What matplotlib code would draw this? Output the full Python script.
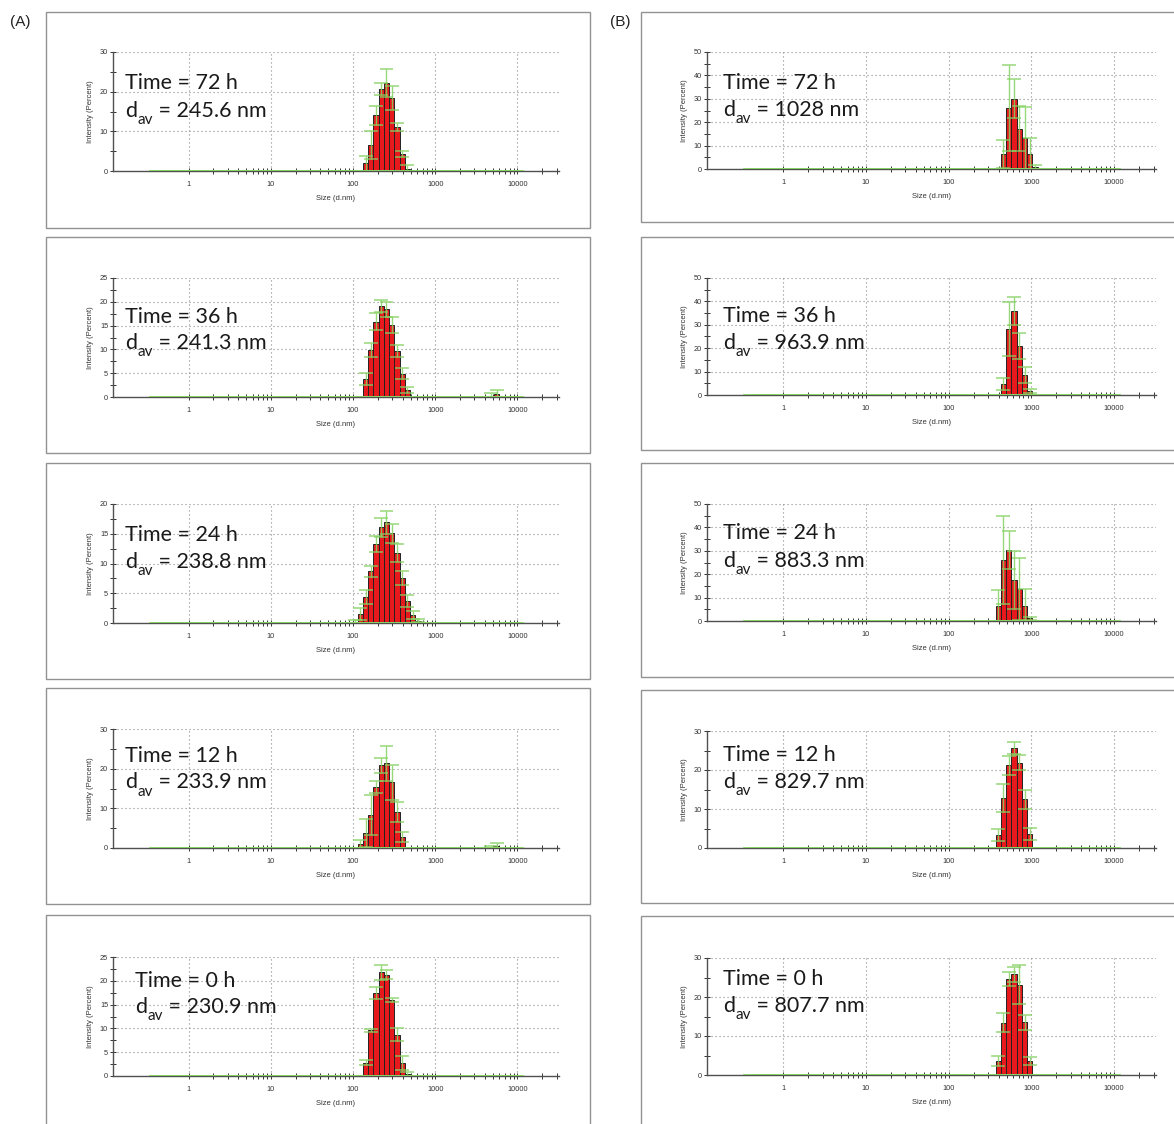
import numpy as np
import matplotlib.pyplot as plt
from matplotlib.patches import Rectangle
from matplotlib.ticker import FixedLocator, NullFormatter
from matplotlib.transforms import offset_copy

plt.rcParams['font.family'] = ['Liberation Sans', 'DejaVu Sans']

# size classes of the instrument (d.nm)
size_classes = [0.4, 0.4632, 0.5365, 0.6213, 0.7195, 0.8332, 0.9649, 1.117, 1.294, 1.499,
                1.736, 2.010, 2.328, 2.696, 3.122, 3.615, 4.187, 4.849, 5.615, 6.503,
                7.531, 8.721, 10.10, 11.70, 13.54, 15.69, 18.17, 21.04, 24.36, 28.21,
                32.67, 37.84, 43.82, 50.75, 58.77, 68.06, 78.82, 91.28, 105.7, 122.4,
                141.8, 164.2, 190.1, 220.2, 255.0, 295.3, 342.0, 396.1, 458.7, 531.2,
                615.1, 712.4, 825.0, 955.4, 1106, 1281, 1484, 1718, 1990, 2305,
                2669, 3091, 3580, 4145, 4801, 5560, 6439, 7456, 8635, 10000]

# (A) series
a_times = [72, 36, 24, 12, 0]
a_dav = ['245.6', '241.3', '238.8', '233.9', '230.9']
a_ymax = [30, 25, 20, 30, 25]
a_ystep = [10, 5, 5, 10, 5]

a72_first = 141.8
a72_int = [1.9, 6.5, 14.0, 20.6, 22.2, 18.4, 11.1, 4.3, 0.6]
a72_sd = [1.8, 3.6, 2.3, 1.5, 3.6, 3.0, 1.1, 0.7, 0.8]

a36_first = 141.8
a36_int = [3.8, 9.9, 15.8, 19.1, 18.4, 15.1, 9.7, 4.9, 1.5]
a36_sd = [1.2, 1.5, 1.8, 1.3, 1.6, 1.7, 1.3, 1.2, 0.6]
a36_tail_first = 4801
a36_tail_int = [0.3, 0.6]
a36_tail_sd = [0.5, 0.8]

a24_first = 105.7
a24_int = [0.2, 1.5, 4.4, 8.7, 13.3, 16.1, 16.9, 15.1, 11.7, 7.6, 3.7, 1.3, 0.4]
a24_sd = [0.3, 1.0, 1.2, 0.9, 1.4, 1.6, 1.9, 1.6, 1.5, 1.2, 1.0, 0.7, 0.3]

a12_first = 122.4
a12_int = [1.0, 3.7, 8.3, 15.3, 20.8, 21.4, 16.6, 9.1, 2.8]
a12_sd = [0.9, 3.5, 5.0, 1.5, 2.0, 4.4, 4.4, 2.6, 1.2]
a12_tail_first = 4801
a12_tail_int = [0.2, 0.5]
a12_tail_sd = [0.4, 0.7]

a0_first = 141.8
a0_int = [2.8, 9.6, 17.4, 21.8, 21.3, 16.0, 8.7, 2.7, 0.5]
a0_sd = [0.5, 0.3, 1.2, 1.6, 1.0, 0.4, 1.4, 1.4, 0.4]

# (B) series
b_times = [72, 36, 24, 12, 0]
b_dav = ['1028', '963.9', '883.3', '829.7', '807.7']
b_ymax = [50, 50, 50, 30, 30]
b_ystep = [10, 10, 10, 10, 10]

b72_first = 458.7
b72_int = [6.4, 26.1, 30.1, 17.3, 13.3, 6.4, 0.7]
b72_sd = [6.0, 18.5, 8.3, 9.5, 13.3, 7.0, 0.8]

b36_first = 458.7
b36_int = [4.6, 28.1, 36.0, 21.0, 8.6, 1.7]
b36_sd = [2.5, 11.5, 6.0, 5.5, 3.5, 1.0]

b24_first = 396.1
b24_int = [6.4, 26.1, 30.4, 17.6, 13.6, 6.4, 1.1]
b24_sd = [6.9, 18.9, 8.2, 12.4, 13.2, 7.2, 0.5]

b12_first = 396.1
b12_int = [3.3, 12.8, 21.2, 25.6, 21.9, 12.5, 3.6]
b12_sd = [1.5, 3.5, 2.5, 1.5, 2.0, 2.5, 1.5]

b0_first = 396.1
b0_int = [3.6, 13.4, 24.5, 25.8, 23.1, 13.5, 3.6]
b0_sd = [1.2, 2.5, 1.8, 2.0, 5.0, 2.0, 1.0]


def full_series(parts):
    """spread (first class, values) pieces over all size classes"""
    h = np.zeros(len(size_classes))
    s = np.zeros(len(size_classes))
    for first, vals, sds in parts:
        i0 = size_classes.index(first)
        h[i0:i0 + len(vals)] = vals
        s[i0:i0 + len(sds)] = sds
    return h, s


a_series = [full_series([(a72_first, a72_int, a72_sd)]),
            full_series([(a36_first, a36_int, a36_sd), (a36_tail_first, a36_tail_int, a36_tail_sd)]),
            full_series([(a24_first, a24_int, a24_sd)]),
            full_series([(a12_first, a12_int, a12_sd), (a12_tail_first, a12_tail_int, a12_tail_sd)]),
            full_series([(a0_first, a0_int, a0_sd)])]
b_series = [full_series([(b72_first, b72_int, b72_sd)]),
            full_series([(b36_first, b36_int, b36_sd)]),
            full_series([(b24_first, b24_int, b24_sd)]),
            full_series([(b12_first, b12_int, b12_sd)]),
            full_series([(b0_first, b0_int, b0_sd)])]

W, H = 1174, 1124
fig = plt.figure(figsize=(W / 100, H / 100), dpi=100)
renderer = fig.canvas.get_renderer()

sizes = np.array(size_classes)
ratio = sizes[1] / sizes[0]
edges = np.concatenate([[sizes[0] / np.sqrt(ratio)], np.sqrt(sizes[:-1] * sizes[1:]),
                        [sizes[-1] * np.sqrt(ratio)]])
cap = 10 ** 0.085
green = '#86d162'
big = dict(fontsize=15.5, family='Lato', va='baseline', color='#1a1a1a', zorder=6)


def draw_panel(left, zero_y, width, height, h, s, ymax, ystep, t, dav, tx, ty, dy):
    ax = fig.add_axes([left / W, 1 - zero_y / H, width / W, height / H])
    ax.set_xscale('log')
    ax.set_xlim(0.12, 32000)
    ax.set_ylim(0, ymax)

    nz = h > 0
    ax.bar(edges[:-1][nz], h[nz], width=np.diff(edges)[nz], align='edge',
           color='#e8191d', edgecolor='#222222', linewidth=0.7, zorder=3)

    # error bars: empty classes give the flat green run along zero
    hi = h + s
    lo = np.clip(h - s, 0, None)
    ax.hlines(np.zeros(len(sizes)), sizes / cap, sizes * cap, color=green, lw=1.3, zorder=3.5)
    ax.vlines(sizes[s > 0], lo[s > 0], hi[s > 0], color=green, lw=1.0, alpha=0.85, zorder=4)
    ax.hlines(hi[hi > 0], sizes[hi > 0] / cap, sizes[hi > 0] * cap,
              color=green, lw=1.1, alpha=0.85, zorder=4)
    ax.hlines(lo[lo > 0], sizes[lo > 0] / cap, sizes[lo > 0] * cap,
              color=green, lw=1.1, alpha=0.85, zorder=4)

    ax.xaxis.set_major_locator(FixedLocator([1, 10, 100, 1000, 10000]))
    ax.set_xticklabels(['1', '10', '100', '1000', '10000'])
    minors = [m * 10 ** k for k in range(0, 5) for m in range(2, 10)]
    ax.xaxis.set_minor_locator(FixedLocator(minors))
    ax.xaxis.set_minor_formatter(NullFormatter())
    ax.set_yticks(np.arange(0, ymax + 1, ystep))
    ax.yaxis.set_minor_locator(FixedLocator(np.arange(ystep / 2, ymax, ystep)))

    ax.grid(True, which='major', ls=(0, (1, 2.6)), color='#8a8a8a', lw=0.8)
    ax.set_axisbelow(True)
    for side in ('top', 'right'):
        ax.spines[side].set_visible(False)
    for side in ('left', 'bottom'):
        ax.spines[side].set_color('#505050')
        ax.spines[side].set_linewidth(1.0)
    ax.tick_params(which='both', direction='inout', length=5, width=0.7, color='#333333',
                   labelsize=5.3, labelcolor='#333333')
    ax.tick_params(axis='x', pad=5)
    ax.tick_params(axis='y', pad=1)
    for tk in ax.xaxis.get_major_ticks() + ax.xaxis.get_minor_ticks():
        tk.tick1line.set_zorder(5)

    ax.set_xlabel('Size (d.nm)', fontsize=5.5, color='#333333', labelpad=5)
    ax.set_ylabel('Intensity (Percent)', fontsize=5.5, color='#333333', labelpad=4)

    ax.text(tx, ty, f'Time = {t} h', transform=ax.transAxes, **big)
    # d with a lowered "av" subscript, then the value
    d = ax.text(tx, dy, 'd', transform=ax.transAxes, **big)
    dw = d.get_window_extent(renderer).width
    sub = ax.text(tx, dy, 'av', fontsize=11, family='Lato', va='baseline', color='#1a1a1a',
                  zorder=6, transform=offset_copy(ax.transAxes, fig=fig, x=dw, y=-7, units='dots'))
    sw = sub.get_window_extent(renderer).width
    ax.text(tx, dy, f' = {dav} nm',
            transform=offset_copy(ax.transAxes, fig=fig, x=dw + sw, y=0, units='dots'), **big)
    return ax


a_zero = [171, 397, 623, 848, 1076]
a_text = [(0.027, 0.69, 0.455), (0.027, 0.62, 0.40), (0.027, 0.69, 0.46),
          (0.027, 0.72, 0.50), (0.05, 0.75, 0.53)]
b_zero = [169, 395, 621, 848, 1075]
b_text = [(0.036, 0.68, 0.45), (0.036, 0.62, 0.39), (0.036, 0.70, 0.46),
          (0.036, 0.74, 0.51), (0.036, 0.77, 0.54)]

for i in range(5):
    (h, s) = a_series[i]
    tx, ty, dy = a_text[i]
    draw_panel(113, a_zero[i], 446, 119, h, s, a_ymax[i], a_ystep[i],
               a_times[i], a_dav[i], tx, ty, dy)
    (h, s) = b_series[i]
    tx, ty, dy = b_text[i]
    draw_panel(707, b_zero[i], 449, 117, h, s, b_ymax[i], b_ystep[i],
               b_times[i], b_dav[i], tx, ty, dy)

# frames round each panel
a_tops = [12, 237, 463, 688, 915]
a_heights = [216, 216, 216, 216, 230]
b_tops = [12, 237, 463, 690, 916]
b_heights = [210, 213, 214, 213, 230]
for top, hgt in zip(a_tops, a_heights):
    fig.add_artist(Rectangle((46 / W, 1 - (top + hgt) / H), 544 / W, hgt / H,
                             transform=fig.transFigure, fill=False, ec='#929292', lw=1.0))
for top, hgt in zip(b_tops, b_heights):
    fig.add_artist(Rectangle((641 / W, 1 - (top + hgt) / H), 560 / W, hgt / H,
                             transform=fig.transFigure, fill=False, ec='#929292', lw=1.0))

fig.text(10 / W, 1 - 22 / H, '(A)', fontsize=11, va='center', color='#222222')
fig.text(610 / W, 1 - 22 / H, '(B)', fontsize=11, va='center', color='#222222')

fig.savefig('out.png', dpi=100, facecolor='white')
